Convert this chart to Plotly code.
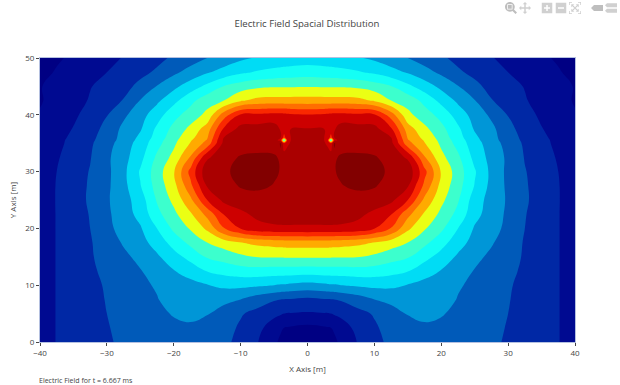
import plotly.graph_objects as go

# Half-plane grid; the field is mirror-symmetric about x = 0.
x_left = [-40, -37.5, -35, -32.5, -30, -27.5, -25, -22.5, -20, -17.5, -15, -12.5, -10, -7.5, -5, -4, -3.5, -3, -2.5, 0]
y_vals = [0, 2.5, 5, 7.5, 10, 12.5, 15, 17.5, 20, 22.5, 25, 27.5, 30, 32.5, 35, 35.5, 36, 37.5, 40, 42.5, 45, 47.5, 50]

r000 = [1.4, 2.05, 2.3, 2.55, 2.9, 3.15, 3.35, 3.55, 3.65, 3.65, 3.5, 3.2, 2.75, 2.05, 1.15, 0.85, 0.8, 0.7, 0.6, 0.4]
r025 = [1.4, 2.05, 2.3, 2.6, 2.95, 3.2, 3.45, 3.7, 3.85, 3.9, 3.75, 3.4, 2.85, 2.3, 1.5, 1.1, 1.0, 0.95, 0.9, 0.75]
r050 = [1.4, 2.05, 2.35, 2.65, 3.0, 3.3, 3.55, 3.85, 4.05, 4.15, 4.05, 3.55, 3.1, 2.7, 2.25, 2.1, 2.0, 1.95, 1.95, 1.9]
r075 = [1.4, 2.05, 2.4, 2.7, 3.05, 3.35, 3.7, 3.95, 4.4, 4.6, 4.55, 4.3, 4.0, 3.5, 3.1, 3.0, 2.98, 2.96, 2.95, 2.8]
r100 = [1.4, 2.05, 2.4, 2.75, 3.1, 3.45, 3.8, 4.1, 4.4, 4.7, 4.95, 5.2, 5.25, 5.15, 5.0, 4.9, 4.88, 4.85, 4.8, 4.65]
r125 = [1.4, 2.05, 2.4, 2.85, 3.2, 3.6, 3.95, 4.4, 4.95, 5.4, 6.05, 6.35, 6.55, 6.6, 6.55, 6.55, 6.55, 6.55, 6.55, 6.5]
r150 = [1.4, 2.05, 2.45, 2.9, 3.35, 3.8, 4.25, 4.85, 5.6, 6.35, 7.1, 7.4, 7.8, 8.05, 8.08, 8.08, 8.09, 8.09, 8.09, 8.1]
r175 = [1.4, 2.05, 2.45, 2.92, 3.5, 4.1, 4.65, 5.4, 6.4, 7.25, 8.0, 8.5, 8.95, 9.25, 9.4, 9.45, 9.47, 9.5, 9.5, 9.53]
r200 = [1.4, 2.05, 2.5, 3.0, 3.75, 4.35, 4.9, 6.0, 7.2, 8.1, 9.2, 10.95, 12.05, 12.7, 12.85, 12.87, 12.88, 12.88, 12.88, 12.9]
r225 = [1.4, 2.05, 2.55, 3.05, 3.8, 4.55, 5.3, 6.7, 7.75, 8.85, 10.3, 12.05, 12.8, 13.2, 13.35, 13.37, 13.38, 13.38, 13.38, 13.3]
r250 = [1.4, 2.06, 2.6, 3.13, 3.87, 4.6, 5.5, 7.1, 8.25, 9.75, 12.0, 13.25, 13.45, 13.6, 13.7, 13.68, 13.65, 13.65, 13.6, 13.6]
r275 = [1.4, 2.05, 2.6, 3.1, 3.8, 4.7, 5.95, 7.4, 8.65, 10.75, 13.1, 13.5, 14.1, 14.2, 13.95, 13.9, 13.85, 13.8, 13.75, 13.7]
r300 = [1.4, 2.0, 2.55, 3.05, 3.75, 4.75, 6.1, 7.5, 8.9, 11.3, 13.7, 13.85, 14.25, 14.45, 14.15, 13.95, 13.85, 13.8, 13.75, 13.7]
r325 = [1.3, 1.9, 2.45, 2.95, 3.8, 4.65, 5.7, 7.2, 8.3, 10.1, 12.85, 13.6, 14.1, 14.2, 14.1, 13.9, 13.75, 13.6, 13.5, 13.4]
r350 = [1.25, 1.75, 2.3, 2.85, 3.6, 4.5, 5.4, 6.65, 7.8, 9.05, 10.35, 13.3, 13.45, 13.55, 13.65, 14.05, 12.0, 12.8, 13.1, 13.3]
r355 = [1.2, 1.75, 2.25, 2.8, 3.5, 4.4, 5.3, 6.55, 7.7, 8.9, 10.1, 13.2, 13.4, 13.5, 13.55, 12.5, 6.0, 12.5, 13.0, 13.2]
r360 = [1.2, 1.7, 2.2, 2.75, 3.45, 4.35, 5.2, 6.4, 7.6, 8.7, 9.9, 13.0, 13.35, 13.4, 13.5, 13.0, 11.5, 12.9, 13.0, 13.15]
r375 = [1.1, 1.55, 2.05, 2.6, 3.3, 4.25, 4.9, 6.2, 7.3, 8.25, 9.5, 12.15, 13.35, 13.4, 13.45, 12.9, 12.85, 12.95, 13.0, 13.05]
r400 = [1.05, 1.4, 1.8, 2.4, 2.95, 3.8, 4.6, 5.55, 6.65, 7.45, 8.25, 10.5, 12.1, 12.2, 12.33, 12.3, 12.25, 12.2, 12.15, 12.05]
r425 = [0.95, 1.2, 1.55, 2.1, 2.6, 3.05, 4.05, 4.8, 5.7, 6.7, 7.6, 8.0, 8.88, 9.3, 9.38, 9.38, 9.38, 9.38, 9.38, 9.38]
r450 = [0.95, 1.3, 1.65, 1.95, 2.35, 2.7, 3.25, 4.05, 4.75, 5.5, 6.25, 7.05, 7.5, 7.8, 7.9, 7.92, 7.92, 7.92, 7.92, 7.95]
r475 = [0.65, 1.1, 1.4, 1.7, 2.0, 2.35, 2.75, 3.15, 3.8, 4.35, 4.9, 5.35, 5.8, 6.1, 6.3, 6.35, 6.38, 6.4, 6.42, 6.5]
r500 = [0.3, 0.85, 1.2, 1.5, 1.75, 2.05, 2.4, 2.75, 3.15, 3.55, 4.0, 4.4, 4.8, 5.1, 5.3, 5.35, 5.38, 5.4, 5.42, 5.5]

half_rows = [r000, r025, r050, r075, r100, r125, r150, r175, r200, r225, r250, r275, r300,
             r325, r350, r355, r360, r375, r400, r425, r450, r475, r500]
x_vals = x_left + [-v for v in x_left[-2::-1]]
z_vals = [row + row[-2::-1] for row in half_rows]

band_colors = ["rgb(0,0,131)", "rgb(0,10,145)", "rgb(0,40,165)", "rgb(0,90,185)", "rgb(0,150,215)",
               "rgb(0,220,245)", "rgb(20,255,245)", "rgb(60,255,205)", "rgb(235,255,20)", "rgb(255,170,0)",
               "rgb(255,110,0)", "rgb(250,40,0)", "rgb(205,0,0)", "rgb(170,0,0)", "rgb(130,0,0)"]

title_text = "Electric Field Spacial Distribution"
note_text = "Electric Field for t = 6.667 ms"
x_title = "X Axis [m]"
y_title = "Y Axis [m]"

fig = go.Figure(go.Contour(
    x=x_vals, y=y_vals, z=z_vals,
    colorscale=[[i / (len(band_colors) - 1), c] for i, c in enumerate(band_colors)],
    showscale=False, autocontour=False,
    contours=dict(start=1, end=14, size=1, coloring="fill", showlines=False),
    line=dict(width=0, smoothing=1.3),
))
fig.update_layout(
    width=620, height=385,
    margin=dict(l=40, r=45, t=58, b=43),
    font=dict(family="Open Sans", size=8, color="#444"),
    title=dict(text=title_text, x=0.4952, xanchor="center", y=0.9377, yanchor="middle",
               font=dict(size=9.6, color="#444")),
    xaxis=dict(title=dict(text=x_title, font=dict(size=8), standoff=9), range=[-40, 40], automargin=False,
               dtick=10, ticks="outside", ticklen=3, showline=True, linecolor="#b4c0e0", mirror=True, linewidth=1),
    yaxis=dict(title=dict(text=y_title, font=dict(size=8), standoff=7), range=[0, 50], automargin=False,
               dtick=10, ticks="outside", ticklen=3, showline=True, linecolor="#b4c0e0", mirror=True, linewidth=1),
    annotations=[dict(text=note_text, xref="paper", yref="paper", x=-0.006, y=-0.134, xanchor="left", yanchor="middle",
                      showarrow=False, font=dict(size=7, color="#444"))],
    modebar=dict(color="rgba(68,68,68,0.25)", activecolor="rgba(68,68,68,0.35)"),
)
css = ("body{margin:0 !important}"
       ".modebar-btn{font-size:12px !important;padding:1px !important;height:14px !important}"
       ".modebar-group{padding-left:8px !important}"
       ".modebar{top:1px !important;right:2px !important}")
fig.write_html("out.html", config=dict(
    displayModeBar=True, displaylogo=False,
    modeBarButtons=[["zoom2d", "pan2d"], ["zoomIn2d", "zoomOut2d", "autoScale2d"],
                    ["hoverClosestCartesian", "hoverCompareCartesian"]],
), post_script="var s=document.createElement('style');s.textContent='%s';document.head.appendChild(s);" % css)
